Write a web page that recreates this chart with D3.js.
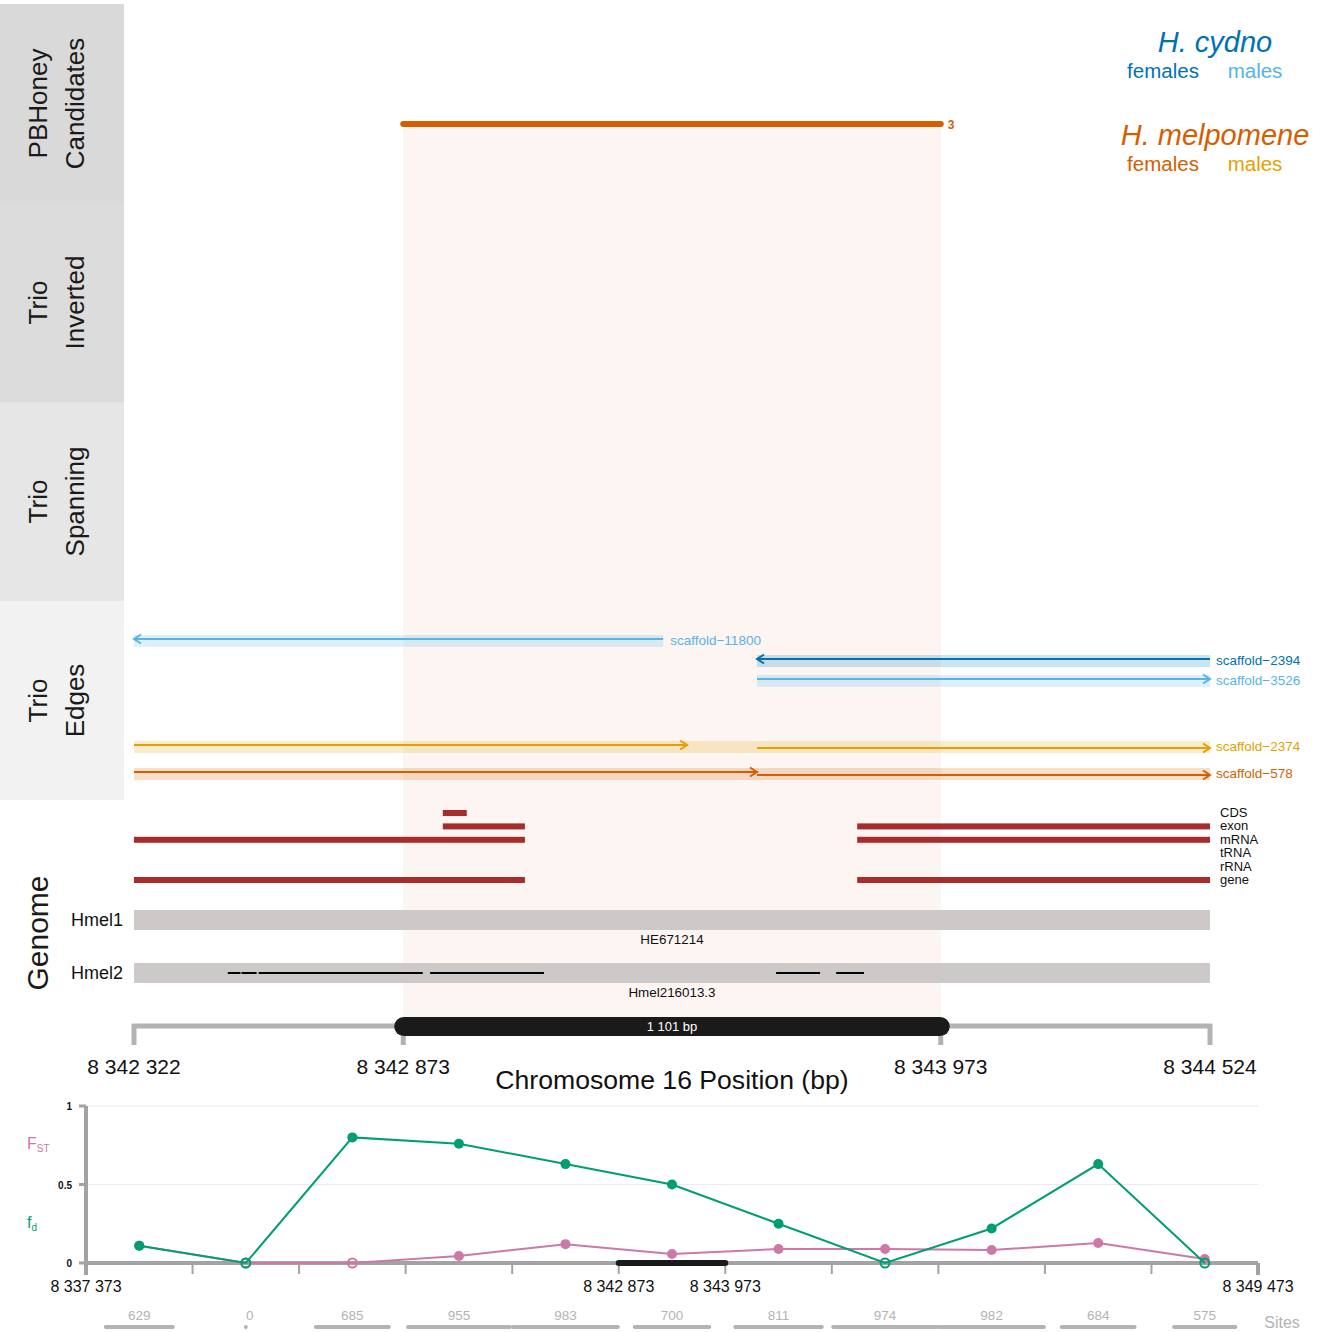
<!DOCTYPE html>
<html><head><meta charset="utf-8">
<script src="https://cdn.jsdelivr.net/npm/d3@7"></script>
<style>body{margin:0;background:#fff}svg{display:block;font-family:"Liberation Sans",Arial,sans-serif}</style>
</head><body>
<script>
// ---------- data ----------
const regionStart = 8342322, regionEnd = 8344524;
const candStart = 8342873, candEnd = 8343973;
const axisTicks = [8342322, 8342873, 8343973, 8344524];
const stripLabels = [["PBHoney","Candidates"],["Trio","Inverted"],["Trio","Spanning"],["Trio","Edges"]];
const pbhoneyCalls = [{start: 8342873, end: 8343973, support: 3, group: "melF"}];
const scaffoldNames = ["scaffold-11800","scaffold-2394","scaffold-3526","scaffold-2374","scaffold-578"];
const scaffoldGroups = ["cydM","cydF","cydM","melM","melF"];
const scaffoldSegments = [
  [{s:8343405, e:8342322, sub:0}],
  [{s:8344524, e:8343597, sub:0}],
  [{s:8343597, e:8344524, sub:0}],
  [{s:8342322, e:8343454, sub:0},{s:8343597, e:8344524, sub:1}],
  [{s:8342322, e:8343597, sub:0},{s:8343597, e:8344524, sub:1}]
];
const featureTypes = ["CDS","exon","mRNA","tRNA","rRNA","gene"];
const features = [
  {type:"CDS", s:8342954, e:8343003},
  {type:"exon", s:8342954, e:8343122},
  {type:"exon", s:8343802, e:8344524},
  {type:"mRNA", s:8342322, e:8343122},
  {type:"mRNA", s:8343802, e:8344524},
  {type:"gene", s:8342322, e:8343122},
  {type:"gene", s:8343802, e:8344524}
];
const assemblies = ["Hmel1","Hmel2"];
const assemblyContigs = ["HE671214","Hmel216013.3"];
const hmel2Blocks = [[8342514,8342540],[8342542,8342573],[8342577,8342913],[8342928,8343161],[8343636,8343726],[8343759,8343816]];
// lower panel
const windowStart = 8337373, windowEnd = 8349473;
const windowCenters = [8337923,8339023,8340123,8341223,8342323,8343423,8344523,8345623,8346723,8347823,8348923];
const fdValues  = [0.11, 0, 0.80, 0.76, 0.63, 0.50, 0.25, 0, 0.22, 0.63, 0];
const fstValues = [0.11, 0, 0, 0.045, 0.12, 0.057, 0.089, 0.089, 0.083, 0.127, 0.025];
const siteCounts = [629, 0, 685, 955, 983, 700, 811, 974, 982, 684, 575];
const lowerTickLabels = [8337373, 8342873, 8343973, 8349473];
const yTicks = [0, 0.5, 1];

// ---------- setup ----------
const W = 1327, H = 1332;
const svg = d3.select("body").append("svg").attr("width", W).attr("height", H);
const colors = {cydF:"#0072b2", cydM:"#56b4e9", melF:"#d55e00", melM:"#e69f00"};
const fmt = v => d3.format(",")(v).replace(/,/g, " ");
const x = d3.scaleLinear().domain([regionStart, regionEnd]).range([134, 1210]);

// strips
const stripY = d3.scaleBand().domain(d3.range(stripLabels.length)).range([4, 800]);
const stripFill = ["#d9d9d9","#dcdcdc","#e6e6e6","#f2f2f2"];
stripLabels.forEach((lab, i) => {
  svg.append("rect").attr("x", 0).attr("y", stripY(i)).attr("width", 124).attr("height", stripY.bandwidth()).attr("fill", stripFill[i]);
  const cy = stripY(i) + stripY.bandwidth() / 2;
  lab.forEach((t, j) => {
    const cx = 38 + j * 37;
    svg.append("text").attr("transform", `translate(${cx + 9},${cy}) rotate(-90)`)
      .attr("text-anchor", "middle").attr("font-size", 26).attr("fill", "#1a1a1a").text(t);
  });
});
svg.append("text").attr("transform", "translate(48,933) rotate(-90)").attr("text-anchor","middle")
  .attr("font-size", 30).attr("fill","#1a1a1a").text("Genome");

// candidate shading
svg.append("rect").attr("x", x(candStart)).attr("y", 124).attr("width", x(candEnd) - x(candStart))
  .attr("height", 1020 - 124).attr("fill", "#fcf5f2");

// PBHoney
pbhoneyCalls.forEach(c => {
  svg.append("line").attr("x1", x(c.start)).attr("x2", x(c.end)).attr("y1", 124).attr("y2", 124)
    .attr("stroke", colors[c.group]).attr("stroke-width", 6).attr("stroke-linecap", "round");
  svg.append("text").attr("x", x(c.end) + 7).attr("y", 129).attr("font-size", 12).attr("font-weight","bold")
    .attr("fill", colors[c.group]).text(c.support);
});

// legend
const leg = [{t:"H. cydno", y:52, f:"cydF", m:"cydM", y2:78},{t:"H. melpomene", y:145, f:"melF", m:"melM", y2:171}];
leg.forEach(l => {
  svg.append("text").attr("x", 1215).attr("y", l.y).attr("text-anchor","middle").attr("font-size", 29)
    .attr("font-style","italic").attr("fill", colors[l.f]).text(l.t);
  svg.append("text").attr("x", 1163).attr("y", l.y2).attr("text-anchor","middle").attr("font-size", 20.5).attr("fill", colors[l.f]).text("females");
  svg.append("text").attr("x", 1255).attr("y", l.y2).attr("text-anchor","middle").attr("font-size", 20.5).attr("fill", colors[l.m]).text("males");
});

// scaffolds
const rowTop = [635, 655, 675, 741, 768];
scaffoldNames.forEach((name, i) => {
  const col = colors[scaffoldGroups[i]];
  const segs = scaffoldSegments[i];
  const lo = d3.min(segs, d => Math.min(d.s, d.e)), hi = d3.max(segs, d => Math.max(d.s, d.e));
  svg.append("rect").attr("x", x(lo)).attr("y", rowTop[i]).attr("width", x(hi) - x(lo)).attr("height", 12)
    .attr("fill", col).attr("opacity", 0.2);
  segs.forEach(sg => {
    const y = rowTop[i] + 4 + sg.sub * 3;
    const x1 = x(sg.s), x2 = x(sg.e), dir = x2 > x1 ? 1 : -1;
    const g = svg.append("g").attr("stroke", col).attr("stroke-width", 2).attr("fill","none");
    g.append("line").attr("x1", x1).attr("x2", x2).attr("y1", y).attr("y2", y);
    g.append("path").attr("d", `M${x2 - dir*7},${y-4.5}L${x2},${y}L${x2 - dir*7},${y+4.5}`);
  });
  const labX = (name === "scaffold-11800") ? x(hi) + 7 : 1216;
  svg.append("text").attr("x", labX).attr("y", rowTop[i] + 10).attr("font-size", 13.5).attr("fill", col).text(name.replace("-", "\u2212"));
});

// features
const fy = d3.scalePoint().domain(featureTypes).range([813, 880]);
features.forEach(f => {
  svg.append("rect").attr("x", x(f.s)).attr("y", fy(f.type) - 3).attr("width", x(f.e) - x(f.s)).attr("height", 6).attr("fill", "#a82c2c");
});
featureTypes.forEach(t => {
  svg.append("text").attr("x", 1220).attr("y", fy(t) + 4).attr("font-size", 13).attr("fill","#111").text(t);
});

// assemblies
const ay = d3.scalePoint().domain(assemblies).range([920, 973]);
assemblies.forEach((a, i) => {
  svg.append("rect").attr("x", x(regionStart)).attr("y", ay(a) - 10).attr("width", x(regionEnd) - x(regionStart)).attr("height", 20).attr("fill","#cdc9c9");
  svg.append("text").attr("x", 123).attr("y", ay(a) + 6).attr("text-anchor","end").attr("font-size", 18).attr("fill","#111").text(a);
  svg.append("text").attr("x", x((regionStart+regionEnd)/2)).attr("y", ay(a) + 24).attr("text-anchor","middle").attr("font-size", 13.4).attr("fill","#111").text(assemblyContigs[i]);
});
hmel2Blocks.forEach(b => {
  svg.append("line").attr("x1", x(b[0])).attr("x2", x(b[1])).attr("y1", ay("Hmel2")).attr("y2", ay("Hmel2")).attr("stroke","#000").attr("stroke-width", 2);
});

// bracket axis
svg.append("path").attr("d", `M${x(regionStart)},1045V1026H${x(regionEnd)}V1045`).attr("fill","none").attr("stroke","#b3b3b3").attr("stroke-width",5);
[candStart, candEnd].forEach(v => svg.append("line").attr("x1", x(v)).attr("x2", x(v)).attr("y1", 1026).attr("y2", 1045).attr("stroke","#b3b3b3").attr("stroke-width",5));
svg.append("rect").attr("x", x(candStart) - 9).attr("y", 1017).attr("width", x(candEnd) - x(candStart) + 18).attr("height", 19).attr("rx", 9.5).attr("fill","#1a1a1a");
svg.append("text").attr("x", x((candStart+candEnd)/2)).attr("y", 1031).attr("text-anchor","middle").attr("font-size", 13).attr("fill","#fff").text(fmt(candEnd - candStart + 1) + " bp");
axisTicks.forEach(v => svg.append("text").attr("x", x(v)).attr("y", 1074).attr("text-anchor","middle").attr("font-size", 21).attr("fill","#111").text(fmt(v)));
svg.append("text").attr("x", 672).attr("y", 1089).attr("text-anchor","middle").attr("font-size", 26.6).attr("fill","#111").text("Chromosome 16 Position (bp)");

// ---------- lower panel ----------
const xl = d3.scaleLinear().domain([windowStart, windowEnd]).range([86, 1258]);
const yl = d3.scaleLinear().domain([0, 1]).range([1263, 1106]);
yTicks.filter(v => v > 0).forEach(v => svg.append("line").attr("x1", 86).attr("x2", 1258).attr("y1", yl(v)).attr("y2", yl(v)).attr("stroke","#ebebeb").attr("stroke-width",1));
svg.append("line").attr("x1", 86).attr("x2", 86).attr("y1", 1106).attr("y2", 1269).attr("stroke","#a3a3a3").attr("stroke-width",4);
yTicks.forEach(v => {
  svg.append("line").attr("x1", 79).attr("x2", 86).attr("y1", yl(v)).attr("y2", yl(v)).attr("stroke","#a3a3a3").attr("stroke-width",3);
  svg.append("text").attr("x", 72).attr("y", yl(v) + 4).attr("text-anchor","end").attr("font-size", 10).attr("font-weight","bold").attr("fill","#111").text(v);
});
svg.append("line").attr("x1", 86).attr("x2", 1258).attr("y1", 1263).attr("y2", 1263).attr("stroke","#a3a3a3").attr("stroke-width",4);
const lowerTicks = d3.range(windowStart, windowEnd + 1, 1100);
lowerTicks.forEach((v, i) => {
  const end = (i === 0 || i === lowerTicks.length - 1);
  svg.append("line").attr("x1", xl(v)).attr("x2", xl(v)).attr("y1", 1263).attr("y2", end ? 1275 : 1274)
    .attr("stroke","#a3a3a3").attr("stroke-width", end ? 4 : 2);
});
svg.append("line").attr("x1", xl(candStart)).attr("x2", xl(candEnd)).attr("y1", 1263).attr("y2", 1263).attr("stroke","#1a1a1a").attr("stroke-width",6).attr("stroke-linecap","round");
lowerTickLabels.forEach(v => svg.append("text").attr("x", xl(v)).attr("y", 1292).attr("text-anchor","middle").attr("font-size", 16).attr("fill","#111").text(fmt(v)));

function series(vals, col) {
  const pts = windowCenters.map((c, i) => ({x: xl(c), y: yl(vals[i]), v: vals[i]}));
  svg.append("path").attr("d", d3.line().x(d => d.x).y(d => d.y)(pts)).attr("fill","none").attr("stroke", col).attr("stroke-width", 2);
  pts.forEach(p => {
    if (p.v === 0) svg.append("circle").attr("cx", p.x).attr("cy", p.y).attr("r", 4.5).attr("fill","none").attr("stroke", col).attr("stroke-width", 2);
    else svg.append("circle").attr("cx", p.x).attr("cy", p.y).attr("r", 5).attr("fill", col);
  });
}
series(fstValues, "#cc79a7");
series(fdValues, "#009e73");

const fst = svg.append("text").attr("x", 27).attr("y", 1149).attr("font-size", 16).attr("fill","#cc79a7");
fst.append("tspan").text("F");
fst.append("tspan").attr("font-size", 10).attr("dy", 3).text("ST");
const fdl = svg.append("text").attr("x", 27).attr("y", 1228).attr("font-size", 16).attr("fill","#009e73");
fdl.append("tspan").text("f");
fdl.append("tspan").attr("font-size", 10).attr("dy", 3).text("d");

// sites
windowCenters.forEach((c, i) => {
  svg.append("text").attr("x", xl(c) + (siteCounts[i] === 0 ? 4 : 0)).attr("y", 1320).attr("text-anchor","middle").attr("font-size", 13.5).attr("fill","#b3b3b3").text(siteCounts[i]);
  const half = siteCounts[i] * 0.55;
  svg.append("line").attr("x1", xl(c - half)).attr("x2", xl(c + half)).attr("y1", 1327).attr("y2", 1327)
    .attr("stroke","#b3b3b3").attr("stroke-width", 4).attr("stroke-linecap","round");
});
svg.append("text").attr("x", 1282).attr("y", 1328).attr("text-anchor","middle").attr("font-size", 16).attr("fill","#b3b3b3").text("Sites");
</script>
</body></html>
